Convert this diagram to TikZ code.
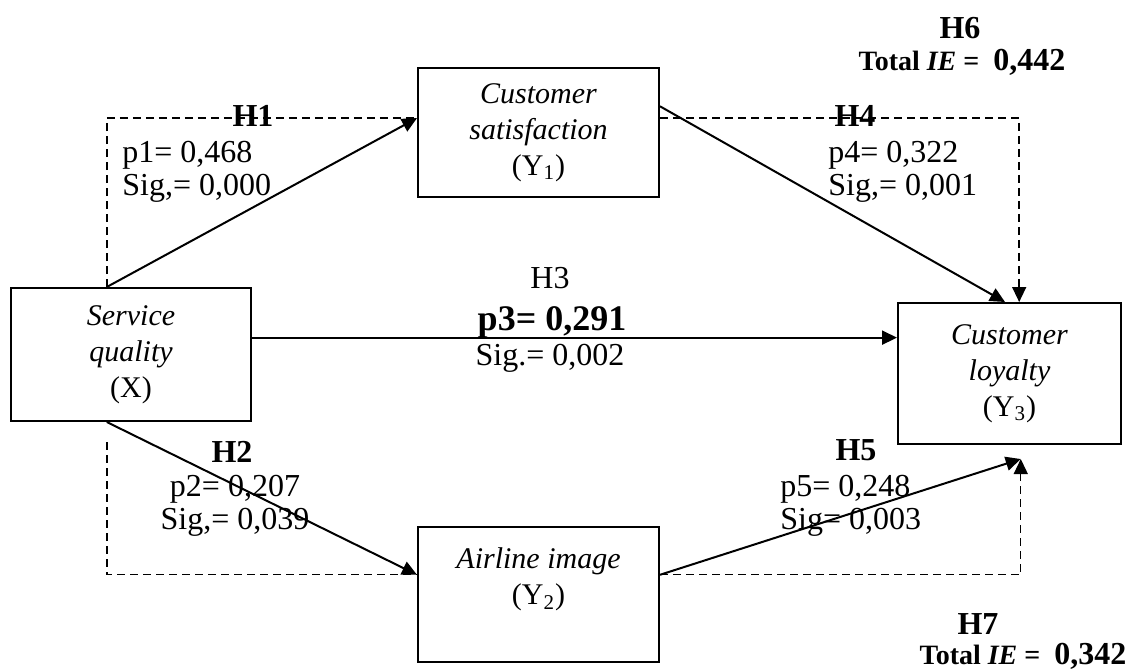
\documentclass[tikz,border=0pt]{standalone}
\usepackage{fontspec}
\setmainfont{Liberation Serif}
\usetikzlibrary{arrows.meta,calc}

\begin{document}
\begin{tikzpicture}[x=0.5pt,y=-0.5pt,
    every node/.style={inner sep=0pt,font=\fontsize{16}{19}\selectfont},
    var/.style={draw,line width=1pt,align=center,font=\fontsize{15}{18}\selectfont},
    hyp/.style={font=\fontsize{16}{19}\selectfont\bfseries},
    coef/.style={font=\fontsize{16}{16.5}\selectfont,align=left},
    tot/.style={font=\fontsize{14}{17}\selectfont\bfseries},
    effect/.style={line width=1pt,-{Triangle[length=7.5pt,width=7pt]}},
    dashpath/.style={line width=0.7pt,dash pattern=on 4pt off 2.5pt},
    tip/.style={-{Triangle[length=7.5pt,width=7pt]}}]

    \useasboundingbox (0,0) rectangle (1128,671);

    \node[var,minimum width=120pt,minimum height=66.5pt] (X) at (131,354.5) {\textit{Service}\\\textit{quality}\\(X)};
    \node[var,minimum width=120.5pt,minimum height=64.5pt] (Y1) at (538.5,132.5) {\textit{Customer}\\\textit{satisfaction}\\(Y\textsubscript{1})};
    \node[var,minimum width=120.5pt,minimum height=67.5pt] (Y2) at (538.5,594.5) {\textit{Airline image}\\(Y\textsubscript{2})\\\mbox{}};
    \node[var,minimum width=111.5pt,minimum height=70.5pt] (Y3) at (1009.5,373.5) {\textit{Customer}\\\textit{loyalty}\\(Y\textsubscript{3})};

    \coordinate (Xt) at ($(X.north west)!0.4!(X.north east)$);
    \coordinate (Xb) at ($(X.south west)!0.4!(X.south east)$);
    \coordinate (Xd) at ($(Xb)+(0,20)$);
    \coordinate (Xr) at ($(X.north east)!0.375!(X.south east)$);
    \coordinate (Y1l) at ($(Y1.north west)!0.39!(Y1.south west)$);
    \coordinate (Y1r) at ($(Y1.north east)!0.3!(Y1.south east)$);
    \coordinate (Y1d) at ($(Y1.north east)!0.39!(Y1.south east)$);
    \coordinate (Y2l) at ($(Y2.north west)!0.356!(Y2.south west)$);
    \coordinate (Y2r) at ($(Y2.north east)!0.356!(Y2.south east)$);
    \coordinate (Y3t) at ($(Y3.north west)!0.48!(Y3.north east)$);
    \coordinate (Y3d) at ($(Y3.north west)!0.543!(Y3.north east)$);
    \coordinate (Y3b) at ($(Y3.south west)!0.55!(Y3.south east)+(0,14)$);

    \draw[effect] (Xt) -- (Y1l);
    \draw[dashpath] (Xt) |- (Y1l);
    \draw[effect] (Y1r) -- (Y3t);
    \draw[dashpath,tip] (Y1d) -| (Y3d);
    \draw[effect] (Xr) -- (Xr -| Y3.west);
    \draw[effect] (Xb) -- (Y2l);
    \draw[dashpath] (Xd) |- (Y2l);
    \draw[effect] (Y2r) -- (Y3b);
    \draw[dashpath,tip] (Y2r) -| (Y3b);

    \node[hyp] (h1) at (253,116) {H1};
    \node[coef,anchor=west] (p1) at (122,172) {p1= 0,468\\Sig,= 0,000};
    \node[hyp] (h4) at (855,116) {H4};
    \node[coef,anchor=west] (p4) at (828,172) {p4= 0,322\\Sig,= 0,001};

    \node (h3) at (550,278) {H3};
    \node[font=\fontsize{18}{20}\selectfont\bfseries] (p3) at (552,322) {p3= 0,291};
    \node (s3) at (550,358) {Sig.= 0,002};

    \node[hyp] (h2) at (232,452) {H2};
    \node[coef,align=center] (p2) at (235,506) {p2= 0,207\\Sig,= 0,039};
    \node[hyp] (h5) at (856,450) {H5};
    \node[coef,anchor=west] (p5) at (780,506) {p5= 0,248\\Sig= 0,003};

    \node[hyp] (h6) at (960,28) {H6};
    \node[tot] (t6) at (962,62) {Total \textit{IE} =\ \ {\fontsize{16}{19}\selectfont 0,442}};
    \node[hyp] (h7) at (978,624) {H7};
    \node[tot] (t7) at (1023,656) {Total \textit{IE} =\ \ {\fontsize{16}{19}\selectfont 0,342}};

\end{tikzpicture}
\end{document}
